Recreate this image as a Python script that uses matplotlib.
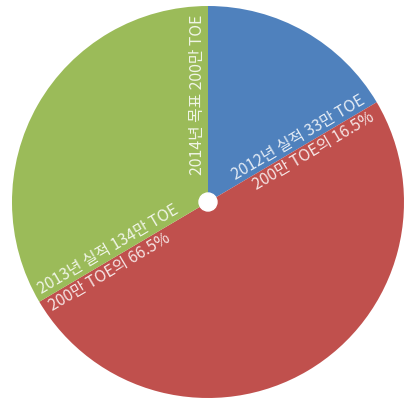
import numpy as np
import matplotlib
matplotlib.use("Agg")
import matplotlib.pyplot as plt

plt.rcParams['font.family'] = ['Noto Sans CJK KR', 'DejaVu Sans']

# slice shares (percent of the 200만 TOE goal)
shares = [16.5, 50.0, 33.5]
colors = ['#4F81BD', '#C0504D', '#9BBB59']
label_2012 = ['2012년 실적 33만 TOE', '200만 TOE의 16.5%']
label_2013 = ['2013년 실적 134만 TOE', '200만 TOE의 66.5%']
label_2014 = '2014년 목표 200만 TOE'

W, H = 407, 399
cx, cy = 208, 202   # pie centre in pixels (from top-left)
R = 196

fig = plt.figure(figsize=(W / 100, H / 100), dpi=100)
ax = fig.add_axes([0, 0, 1, 1])
ax.pie(shares, colors=colors, startangle=90, counterclock=False,
       radius=R, center=(0, 0), wedgeprops=dict(linewidth=0))
ax.add_patch(plt.Circle((0, 0), 9, color='white', zorder=5))
ax.set_xlim(-cx, W - cx)
ax.set_ylim(-(H - cy), cy)
ax.set_aspect('equal')
ax.axis('off')

txt = dict(color='white', alpha=0.85, fontsize=11.4, rotation_mode='anchor')

# boundary between 2012 and the rest
th = np.radians(360 * shares[0] / 100)
u = np.array([np.sin(th), np.cos(th)])
n = np.array([-u[1], u[0]])
rot = np.degrees(np.arctan2(u[1], u[0]))
p = u * 186 + n * 1
ax.text(p[0], p[1], label_2012[0], ha='right', va='bottom', rotation=rot, **txt)
p = u * 186 - n * 2
ax.text(p[0], p[1], label_2012[1], ha='right', va='top', rotation=rot, **txt)

# boundary at 66.5% cumulative
th = np.radians(360 * (shares[0] + shares[1]) / 100)
u = np.array([np.sin(th), np.cos(th)])
rot = np.degrees(np.arctan2(-u[1], -u[0]))
n = np.array([-np.sin(np.radians(rot)), np.cos(np.radians(rot))])
p = u * 190 + n * 1
ax.text(p[0], p[1], label_2013[0], ha='left', va='bottom', rotation=rot, **txt)
p = u * 190 - n * 2
ax.text(p[0], p[1], label_2013[1], ha='left', va='top', rotation=rot, **txt)

# vertical goal label
ax.text(-2, 187, label_2014, ha='right', va='bottom', rotation=90, **txt)

fig.savefig('out.png', dpi=100, facecolor='white')
